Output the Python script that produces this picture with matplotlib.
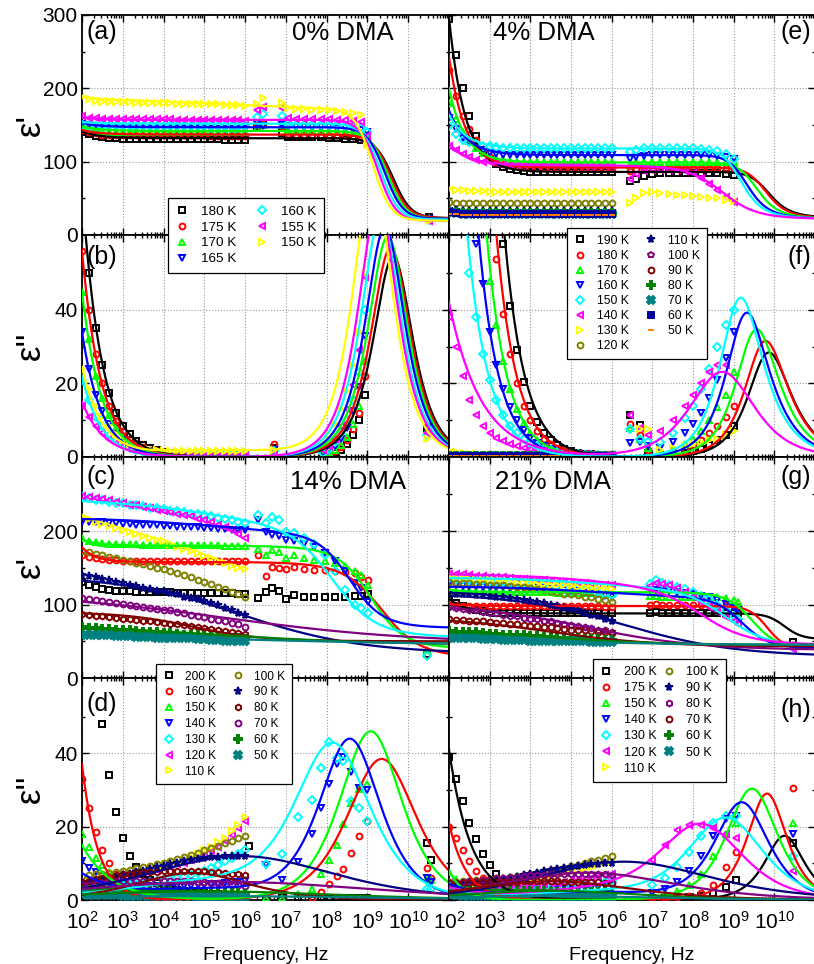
import numpy as np
import matplotlib
matplotlib.use("Agg")
import matplotlib.pyplot as plt
from matplotlib.lines import Line2D
from matplotlib.ticker import FixedLocator, FuncFormatter, NullFormatter

plt.rcParams['font.family'] = ['Liberation Sans', 'DejaVu Sans']
plt.rcParams['mathtext.fontset'] = 'custom'
plt.rcParams['mathtext.rm'] = 'Liberation Sans'
plt.rcParams['mathtext.it'] = 'Liberation Sans'

nan = float('nan')

# ---------------- data: log10 frequency of measured low-frequency points ----------------
LOGF_LOW = [2.0, 2.167, 2.333, 2.5, 2.667, 2.833, 3.0, 3.167, 3.333, 3.5, 3.667, 3.833, 4.0,
            4.167, 4.333, 4.5, 4.667, 4.833, 5.0, 5.167, 5.333, 5.5, 5.667, 5.833, 6.0]

# ===== 0% DMA : panels (a) eps', (b) eps'' =====
T_A = [180, 175, 170, 165, 160, 155, 150]
A_EP_LOW = [
    [141, 138, 135, 133, 132, 132, 131, 131, 131, 131, 131, 131, 131, 131, 131, 131, 131, 131, 131, 131, 131, 130, 130, 130, 130],
    [143, 141, 139, 137, 136, 136, 136, 136, 136, 136, 136, 136, 136, 136, 136, 136, 136, 136, 136, 135, 135, 135, 135, 135, 135],
    [148, 146, 144, 142, 141, 141, 141, 141, 141, 141, 141, 141, 141, 141, 141, 141, 141, 141, 141, 140, 140, 140, 140, 140, 140],
    [152, 150, 148, 147, 146, 146, 146, 146, 146, 146, 146, 146, 146, 146, 146, 146, 146, 146, 146, 145, 145, 145, 145, 145, 145],
    [150, 149, 149, 149, 149, 149, 149, 149, 149, 149, 149, 149, 149, 149, 149, 149, 149, 149, 149, 149, 149, 149, 149, 149, 149],
    [162, 160, 159, 158, 158, 158, 158, 158, 158, 158, 158, 158, 158, 158, 157, 157, 157, 157, 157, 157, 157, 157, 157, 157, 156],
    [188, 185, 183, 182, 181, 181, 181, 181, 180, 180, 180, 180, 180, 180, 179, 179, 179, 178, 178, 178, 178, 177, 177, 177, 176]]
A_LOGF_EP_HI = [6.3, 6.45, 6.9, 7.05, 7.25, 7.45, 7.65, 7.85, 8.05, 8.25, 8.45, 8.65, 8.85, 8.98, 10.5]
A_EP_HI = [
    [147, 150, 139, 134, 133, 133, 133, 133, 132, 132, 131, 131, 130, 127, 24],
    [150, 152, 148, 138, 137, 137, 137, 137, 137, 136, 136, 135, 134, 130, 23],
    [146, 150, 150, 143, 142, 142, 142, 142, 141, 141, 141, 140, 139, 136, 23],
    [152, 148, 150, 148, 147, 147, 147, 147, 147, 146, 146, 145, 143, 140, 22],
    [161, 165, 162, 151, 150, 150, 150, 150, 150, 150, 149, 148, 146, 140, 21],
    [170, 175, 173, 159, 158, 158, 158, 158, 158, 157, 157, 156, 154, 135, 19],
    [178, 187, 180, 173, 172, 172, 171, 171, 170, 169, 168, 166, 163, 123, 19]]
A_EPP_LOW = [
    [72, 50, 35, 25, 17.5, 12, 8.5, 6.2, 4.3, 3.2, 2.4, 1.8, 1.4, 1.1, 0.9, 0.8, 0.7, 0.6, 0.6, 0.5, 0.5, 0.5, 0.5, 0.5, 0.5],
    [56, 40, 28, 20, 14, 9.7, 7, 5, 3.6, 2.6, 2, 1.5, 1.2, 0.95, 0.8, 0.7, 0.6, 0.6, 0.5, 0.5, 0.5, 0.5, 0.5, 0.5, 0.5],
    [45, 32, 22, 16, 11.5, 8, 5.7, 4, 3, 2.2, 1.6, 1.3, 1.0, 0.8, 0.7, 0.6, 0.5, 0.5, 0.5, 0.5, 0.5, 0.5, 0.5, 0.5, 0.5],
    [34, 24, 17, 12.5, 9, 6.3, 4.5, 3.3, 2.4, 1.8, 1.4, 1.1, 0.9, 0.7, 0.6, 0.5, 0.5, 0.5, 0.5, 0.5, 0.5, 0.5, 0.5, 0.5, 0.5],
    [21, 15.5, 11, 8.3, 6, 4.3, 3.2, 2.4, 1.8, 1.4, 1.1, 0.9, 0.7, 0.6, 0.5, 0.5, 0.5, 0.5, 0.5, 0.5, 0.5, 0.5, 0.5, 0.5, 0.5],
    [14, 10.8, 8.3, 6.5, 5, 3.8, 2.9, 2.3, 1.8, 1.4, 1.1, 0.9, 0.7, 0.6, 0.5, 0.5, 0.4, 0.4, 0.4, 0.4, 0.4, 0.4, 0.4, 0.4, 0.4],
    [24, 18.5, 14, 11, 8.3, 6.2, 4.6, 3.6, 2.8, 2.3, 2.0, 1.8, 1.7, 1.6, 1.5, 1.5, 1.5, 1.5, 1.5, 1.5, 1.5, 1.5, 1.5, 1.5, 1.5]]
A_LOGF_EPP_HI = [6.7, 7.9, 8.05, 8.2, 8.35, 8.5, 8.65, 8.8, 8.95, 10.45]
A_EPP_HI = [
    [2.5, 0.4, 0.6, 1.0, 1.8, 3.5, 6, 10, 17, 8],
    [3.5, 0.5, 0.8, 1.5, 2.6, 4.5, 7.5, 12, 22, 8.5],
    [1.5, 0.6, 1.0, 2.0, 3.3, 5.5, 9, 14, 26, 7],
    [2.0, 0.8, 1.5, 3.0, 5, 8, 12.5, 19, 33, 7.5],
    [1.5, 1.2, 2.2, 4, 6.5, 10, 15.5, 23, 40, 6],
    [1.2, 1.8, 3, 5, 8.5, 13, 19.5, 29, 49, 6.5],
    [2, 3.5, 6, 9, 13, 18, 25, 34, 50, 5]]
# fit parameters per temperature:
# (eps_inf, d1, log f1, a1, b1, d2, log f2, a2, B, m, A, s)
A_FIT = [
    (23, 109, 9.63, 1, 1, 0, 5, 0.3, 9, 1.0, 73, 0.92),
    (23, 114, 9.57, 1, 1, 0, 5, 0.3, 6, 1.0, 56, 0.92),
    (22, 120, 9.50, 1, 1, 0, 5, 0.3, 6, 1.0, 45, 0.92),
    (22, 125, 9.43, 1, 1, 0, 5, 0.3, 6, 1.0, 34, 0.92),
    (21, 131, 9.33, 1, 1, 0, 5, 0.3, 2, 1.0, 22, 0.92),
    (19, 138, 9.26, 1, 1, 0, 5, 0.3, 4, 1.0, 15, 0.8),
    (19, 152, 9.13, 1, 1, 15, 5.5, 0.3, 4, 1.0, 24, 0.9)]

# ===== 4% DMA : panels (e) eps', (f) eps'' =====
T_E = [190, 180, 170, 160, 150, 140, 130, 120, 110, 100, 90, 80, 70, 60, 50]
E_EP_LOW = [
    [295, 245, 200, 162, 135, 116, 104, 97, 93, 90, 88, 87, 86, 86, 86, 86, 86, 86, 86, 86, 86, 86, 86, 86, 86],
    [225, 190, 162, 145, 130, 117, 106, 100, 97, 95, 94, 93, 92, 92, 92, 92, 92, 92, 92, 92, 92, 92, 92, 92, 92],
    [180, 158, 140, 128, 119, 112, 107, 104, 102, 101, 100, 100, 99, 99, 99, 99, 99, 99, 99, 99, 99, 99, 99, 99, 99],
    [160, 145, 132, 125, 120, 116, 112, 110, 109, 109, 109, 109, 109, 109, 109, 109, 109, 109, 109, 109, 109, 109, 109, 109, 109],
    [148, 138, 130, 127, 124, 122, 121, 120, 119, 119, 118, 118, 118, 118, 118, 118, 118, 118, 118, 118, 118, 118, 118, 118, 118],
    [122, 116, 110, 106, 102, 100, 99, 98, 97, 96, 96, 95, 95, 95, 95, 95, 95, 95, 95, 95, 94, 94, 94, 94, 94],
    [63, 62, 61, 60, 60, 60, 59, 59, 59, 59, 59, 59, 59, 59, 59, 59, 59, 59, 58, 58, 58, 58, 58, 58, 58],
    [45, 44, 44, 44, 43, 43, 43, 43, 43, 43, 43, 43, 43, 43, 43, 43, 43, 43, 43, 43, 43, 43, 43, 43, 43],
    [35, 34, 33, 33, 33, 33, 33, 33, 33, 33, 33, 33, 33, 33, 33, 33, 33, 33, 33, 33, 33, 33, 33, 33, 33],
    [34, 33, 32, 32, 32, 32, 32, 32, 32, 32, 32, 32, 32, 32, 32, 32, 32, 32, 32, 32, 32, 32, 32, 32, 32],
    [33, 32, 31, 31, 31, 31, 31, 31, 31, 31, 31, 31, 31, 31, 31, 31, 31, 31, 31, 31, 31, 31, 31, 31, 31],
    [32, 31, 30, 30, 30, 30, 30, 30, 30, 30, 30, 30, 30, 30, 30, 30, 30, 30, 30, 30, 30, 30, 30, 30, 30],
    [31, 30, 29, 29, 29, 29, 29, 29, 29, 29, 29, 29, 29, 29, 29, 29, 29, 29, 29, 29, 29, 29, 29, 29, 29],
    [31, 30, 29, 29, 29, 29, 29, 29, 29, 29, 29, 29, 29, 29, 29, 29, 29, 29, 29, 29, 29, 29, 29, 29, 29],
    [29, 28, 27, 27, 27, 27, 27, 27, 27, 27, 27, 27, 27, 27, 27, 27, 27, 27, 27, 27, 27, 27, 27, 27, 27]]
E_LOGF_EP_HI = [6.45, 6.6, 6.8, 7.0, 7.2, 7.4, 7.6, 7.8, 8.0, 8.2, 8.4, 8.6, 8.8, 9.0]
E_EP_HI = [
    [74, 77, 80, 83, 84, 84, 84, 84, 84, 84, 84, 84, 83, 82],
    [87, 90, 92, 92, 92, 92, 92, 92, 92, 92, 92, 92, 91, 90],
    [96, 99, 100, 100, 100, 100, 100, 100, 100, 100, 100, 100, 100, 99],
    [104, 107, 108, 109, 109, 109, 109, 109, 109, 109, 109, 108, 107, 104],
    [113, 116, 118, 118, 118, 118, 118, 118, 118, 117, 116, 114, 110, 104],
    [76, 83, 87, 88, 88, 88, 88, 87, 84, 78, 70, 62, 52, 45],
    [43, 50, 57, 58, 57, 56, 55, 54, 53, 52, 51, 50, 48, 46]]
E_EPP_LOW = [
    [nan, nan, nan, nan, nan, nan, nan, nan, 58, 41, 29, 20.5, 14, 9.5, 6.5, 4.5, 3.2, 2.3, 1.6, 1.2, 0.9, 0.7, 0.5, 0.4, 0.3],
    [nan, nan, nan, nan, nan, nan, nan, 54, 39, 28, 20, 14, 10, 7, 5, 3.5, 2.5, 1.8, 1.3, 0.9, 0.7, 0.5, 0.4, 0.35, 0.3],
    [nan, nan, nan, nan, nan, nan, 48, 36, 26, 18.5, 13, 9.3, 6.6, 4.7, 3.4, 2.4, 1.8, 1.3, 0.9, 0.7, 0.5, 0.4, 0.35, 0.3, 0.3],
    [nan, nan, nan, nan, 58, 47, 34, 25, 18.5, 13.5, 10, 7.3, 5.3, 3.9, 2.9, 2.1, 1.6, 1.2, 0.9, 0.7, 0.5, 0.4, 0.35, 0.3, 0.3],
    [nan, nan, nan, 50, 38, 28, 21, 15.5, 11.5, 8.5, 6.5, 5, 3.8, 2.9, 2.3, 1.8, 1.4, 1.1, 0.9, 0.75, 0.6, 0.5, 0.45, 0.4, 0.4],
    [38, 30, 22, 15.5, 11.5, 8.5, 6.5, 5.3, 4.4, 3.6, 3.0, 2.5, 2.1, 1.8, 1.5, 1.3, 1.1, 1.0, 0.9, 0.8, 0.7, 0.65, 0.6, 0.55, 0.5],
    [1.5, 1.3, 1.1, 0.9, 0.7, 0.5, 0.4, 0.3, 0.3, 0.3, 0.3, 0.3, 0.3, 0.3, 0.3, 0.3, 0.3, 0.3, 0.3, 0.3, 0.3, 0.3, 0.3, 0.3, 0.3],
    [0.4, 0.3, 0.3, 0.3, 0.3, 0.3, 0.3, 0.3, 0.3, 0.3, 0.3, 0.3, 0.3, 0.3, 0.3, 0.3, 0.3, 0.3, 0.3, 0.3, 0.3, 0.3, 0.3, 0.3, 0.3],
    [0.3, 0.3, 0.3, 0.3, 0.3, 0.3, 0.3, 0.3, 0.3, 0.3, 0.3, 0.3, 0.3, 0.3, 0.3, 0.3, 0.3, 0.3, 0.3, 0.3, 0.3, 0.3, 0.3, 0.3, 0.3],
    [0.3, 0.3, 0.3, 0.3, 0.3, 0.3, 0.3, 0.3, 0.3, 0.3, 0.3, 0.3, 0.3, 0.3, 0.3, 0.3, 0.3, 0.3, 0.3, 0.3, 0.3, 0.3, 0.3, 0.3, 0.3],
    [0.3, 0.3, 0.3, 0.3, 0.3, 0.3, 0.3, 0.3, 0.3, 0.3, 0.3, 0.3, 0.3, 0.3, 0.3, 0.3, 0.3, 0.3, 0.3, 0.3, 0.3, 0.3, 0.3, 0.3, 0.3],
    [0.2, 0.2, 0.2, 0.2, 0.2, 0.2, 0.2, 0.2, 0.2, 0.2, 0.2, 0.2, 0.2, 0.2, 0.2, 0.2, 0.2, 0.2, 0.2, 0.2, 0.2, 0.2, 0.2, 0.2, 0.2],
    [0.2, 0.2, 0.2, 0.2, 0.2, 0.2, 0.2, 0.2, 0.2, 0.2, 0.2, 0.2, 0.2, 0.2, 0.2, 0.2, 0.2, 0.2, 0.2, 0.2, 0.2, 0.2, 0.2, 0.2, 0.2],
    [0.2, 0.2, 0.2, 0.2, 0.2, 0.2, 0.2, 0.2, 0.2, 0.2, 0.2, 0.2, 0.2, 0.2, 0.2, 0.2, 0.2, 0.2, 0.2, 0.2, 0.2, 0.2, 0.2, 0.2, 0.2],
    [0.2, 0.2, 0.2, 0.2, 0.2, 0.2, 0.2, 0.2, 0.2, 0.2, 0.2, 0.2, 0.2, 0.2, 0.2, 0.2, 0.2, 0.2, 0.2, 0.2, 0.2, 0.2, 0.2, 0.2, 0.2]]
E_LOGF_EPP_HI = [6.45, 6.7, 6.9, 7.2, 7.5, 7.8, 8.0, 8.2, 8.4, 8.6, 8.8, 9.0]
E_EPP_HI = [
    [11.5, 8.7, 1, 0.5, 0.8, 1.2, 1.6, 2.2, 3.2, 4.5, 6, 8.5],
    [9, 6, 2, 1, 1.5, 2.3, 3.2, 4.5, 6.5, 8.5, 11, 14],
    [8, 5, 2.5, 1.5, 2.2, 3.5, 5, 7, 10, 13.5, 17, 23],
    [3.7, 4, 3, 2.5, 4, 6.5, 9, 12, 16, 21, 27, 34],
    [7.6, 5, 4, 4, 6.5, 10.5, 14, 18.5, 24, 30, 36, 40],
    [11.5, 8, 6, 7, 10, 14, 17, 20, 23, 25, 25, nan],
    [nan, 7.5, 7.5, 2, 2.5, 3, 3.5, 4, 4.5, 5, 6, 7]]
E_FIT = [
    (23, 63, 9.79, 1, 0.8, 0, 5, 0.3, 210, 1.1, 961, 0.88),
    (22, 70, 9.71, 1, 0.8, 0, 5, 0.3, 151, 1.1, 642, 0.88),
    (22, 77, 9.49, 1, 0.8, 0, 5, 0.3, 101, 1.1, 395, 0.88),
    (22, 87, 9.25, 1, 0.8, 0, 5, 0.3, 61, 1.0, 263, 0.88),
    (22, 96, 9.10, 1, 0.8, 0, 5, 0.3, 46, 1.0, 143, 0.83),
    (22, 73, 8.72, 0.72, 1, 0, 5, 0.3, 30, 0.9, 42, 0.55),
    None, None, None, None, None, None, None, None, None]

# ===== 14% DMA : panels (c) eps', (d) eps'' =====
T_C = [200, 160, 150, 140, 130, 120, 110, 100, 90, 80, 70, 60, 50]
C_EP_LOW = [
    [131, 127, 124, 121, 120, 119, 118, 118, 117, 117, 117, 117, 117, 117, 116, 116, 116, 116, 116, 116, 116, 116, 116, 115, 115],
    [167, 165, 164, 162, 161, 161, 160, 160, 160, 160, 160, 160, 160, 160, 160, 160, 160, 160, 160, 160, 160, 160, 160, 160, 160],
    [190, 187, 185, 184, 183, 183, 182, 182, 182, 181, 181, 181, 181, 181, 181, 181, 181, 181, 181, 181, 181, 180, 180, 180, 180],
    [213, 213, 212, 212, 211, 211, 210, 210, 209, 209, 208, 208, 207, 207, 206, 206, 205, 205, 204, 204, 203, 203, 202, 202, 201],
    [246, 245, 243, 242, 240, 239, 238, 236, 235, 234, 232, 231, 230, 228, 227, 226, 224, 223, 222, 220, 218, 216, 215, 213, 211],
    [248, 247, 245, 244, 242, 240, 238, 236, 235, 233, 231, 229, 228, 226, 224, 222, 220, 217, 215, 212, 209, 206, 201, 196, 190],
    [220, 217, 213, 210, 207, 204, 202, 199, 196, 194, 191, 188, 186, 183, 179, 176, 173, 170, 166, 163, 159, 156, 153, 150, 148],
    [173, 171, 169, 167, 165, 163, 161, 159, 157, 155, 153, 150, 148, 146, 143, 140, 137, 134, 131, 128, 124, 121, 117, 114, 111],
    [140, 139, 137, 135, 133, 131, 129, 127, 125, 123, 121, 119, 118, 116, 114, 111, 109, 107, 105, 102, 99, 96, 92, 89, 86],
    [87, 86, 85, 84, 83, 82, 81, 80, 79, 78, 77, 76, 75, 74, 73, 72, 71, 70, 68, 67, 66, 64, 63, 61, 60],
    [109, 108, 106, 105, 104, 102, 101, 100, 98, 97, 96, 94, 93, 92, 90, 88, 86, 84, 83, 81, 79, 77, 75, 73, 70],
    [69, 68, 68, 67, 67, 66, 65, 65, 64, 63, 63, 62, 61, 61, 60, 59, 59, 58, 57, 56, 56, 55, 54, 54, 53],
    [59, 59, 58, 58, 58, 57, 57, 57, 56, 56, 56, 55, 55, 55, 54, 54, 54, 53, 53, 52, 52, 51, 51, 51, 50]]
C_LOGF_EP_HI = [6.32, 6.5, 6.65, 6.83, 7.0, 7.2, 7.45, 7.7, 7.95, 8.2, 8.45, 8.7, 8.85, 9.02, 10.45]
C_EP_HI = [
    [109, 117, 123, 119, 108, 113, 111, 111, 111, 111, 111, 112, 112, 114, 33],
    [167, 139, 151, 150, 149, 151, 148, 147, 147, 146, 145, 143, 137, 133, 31],
    [176, 168, 174, 172, 163, 168, 163, 161, 160, 156, 152, 146, 140, 127, 38],
    [215, 199, 195, 194, 188, 186, 183, 179, 170, 160, 146, 130, 122, 104, nan],
    [222, 211, 219, 215, 199, 198, 190, 182, 168, 146, 120, 100, 95, 88, 30]]
C_EPP_LOW = [
    [nan, nan, nan, 48, 34, 24, 17, 12, 9, 7, 5.5, 4.5, 3.8, 3.2, 2.8, 2.5, 2.2, 2.0, 1.8, 1.6, 1.5, 1.3, 1.2, 1.1, 1.0],
    [33, 25, 18.5, 13.5, 10, 7, 5, 3.5, 2.4, 1.7, 1.2, 0.9, 0.7, 0.5, 0.4, 0.4, 0.3, 0.3, 0.3, 0.3, 0.3, 0.3, 0.3, 0.3, 0.3],
    [18, 14.5, 11.5, 9.5, 7.7, 6.3, 5.2, 4.4, 3.8, 3.4, 3.1, 2.9, 2.7, 2.6, 2.5, 2.4, 2.4, 2.3, 2.3, 2.2, 2.2, 2.1, 2.1, 2.0, 2.0],
    [10.5, 8.8, 7.5, 6.5, 5.8, 5.2, 4.8, 4.4, 4.1, 3.9, 3.8, 3.7, 3.7, 3.7, 3.8, 3.8, 3.9, 4.0, 4.1, 4.3, 4.4, 4.6, 4.8, 5.0, 5.2],
    [3, 3.1, 3.3, 3.5, 3.7, 3.9, 4.0, 4.2, 4.4, 4.6, 4.9, 5.1, 5.4, 5.7, 6.0, 6.3, 6.8, 7.4, 8.0, 8.8, 9.6, 10.5, 11.5, 12.5, 13.6],
    [4.5, 4.8, 5.2, 5.5, 5.8, 6.2, 6.5, 6.8, 7.2, 7.5, 7.8, 8.2, 8.7, 9.2, 9.7, 10.2, 10.9, 11.6, 12.3, 13.3, 14.5, 16, 17.7, 19.5, 21.5],
    [5, 5.3, 5.7, 6, 6.3, 6.7, 7, 7.3, 7.7, 8, 8.4, 8.8, 9.3, 9.8, 10.3, 11, 11.7, 12.5, 13.5, 14.5, 15.7, 17, 18.7, 20.5, 22.5],
    [6.5, 6.7, 7, 7.2, 7.4, 7.7, 8, 8.3, 8.7, 9, 9.3, 9.7, 10.2, 10.7, 11.2, 11.8, 12.3, 12.9, 13.5, 14.2, 14.8, 15.5, 16.2, 16.9, 17.5],
    [4.5, 4.8, 5.2, 5.5, 5.8, 6.3, 6.7, 7.1, 7.6, 8, 8.5, 9, 9.3, 9.8, 10.2, 10.5, 10.9, 11.2, 11.4, 11.6, 11.8, 11.9, 12, 12, 12],
    [5, 5.3, 5.7, 6, 6.3, 6.7, 7, 7.2, 7.3, 7.5, 7.6, 7.7, 7.8, 7.9, 7.9, 7.9, 7.9, 7.9, 7.8, 7.7, 7.5, 7.4, 7.2, 7.0, 6.7],
    [4, 4.2, 4.4, 4.6, 4.8, 5.0, 5.1, 5.2, 5.2, 5.3, 5.3, 5.3, 5.3, 5.3, 5.2, 5.1, 5.1, 5.0, 4.8, 4.7, 4.5, 4.4, 4.2, 4.0, 3.8],
    [2.5, 2.6, 2.6, 2.6, 2.6, 2.6, 2.6, 2.6, 2.5, 2.5, 2.5, 2.4, 2.4, 2.4, 2.3, 2.3, 2.2, 2.2, 2.1, 2.0, 2.0, 1.9, 1.8, 1.8, 1.7],
    [1.5, 1.4, 1.4, 1.3, 1.3, 1.3, 1.2, 1.2, 1.2, 1.1, 1.1, 1.1, 1.0, 1.0, 1.0, 1.0, 1.0, 0.9, 0.9, 0.9, 0.9, 0.8, 0.8, 0.8, 0.8]]
C_LOGF_EPP_HI = [6.1, 6.5, 6.9, 7.3, 7.65, 7.85, 8.05, 8.25, 8.4, 8.6, 8.8, 9.0, 10.45, 10.55]
C_EPP_HI = [
    [14.6, 0.5, 0.5, 0.5, 0.5, 0.5, 0.5, 0.5, 0.5, 0.5, 0.5, 0.5, 15.4, 11],
    [nan, nan, nan, nan, 0.6, 2.3, 4.3, 6.6, 8.4, 12.9, 17.5, 21.6, 8.6, 5.9],
    [nan, 0.5, 0.5, 1.5, 3, 7, 10.9, 15, 20.6, 26.5, 30.2, 31.5, 6, 5.5],
    [nan, 9.5, 5.5, 10.4, 18, 25, 31.5, 37, 39, 35, 30.5, 30, 6, 5],
    [nan, 9.8, 12.6, 22.7, 27.2, 36, 43, 38.7, 38, 27, 25, 21.6, 3, 3]]
C_FIT = [
    None,
    (28, 130, 9.35, 0.68, 1, 0, 5, 0.3, 20, 1.3, 37, 1.1),
    (40, 140, 9.08, 0.74, 1, 0, 5, 0.3, 8, 1.0, 15, 0.6),
    (68, 130, 8.57, 0.75, 1, 20, 5, 0.35, 0, 1, 6.5, 0.5),
    (55, 150, 8.15, 0.64, 1, 40, 5, 0.3, 0, 1, 0, 1),
    None, None, None,
    (33, 107, 5.9, 0.28, 1, 0, 5, 0.3, 0, 1, 0, 1),
    (50, 40, 4.7, 0.45, 1, 0, 5, 0.3, 0, 1, 0, 1),
    (47, 70, 5.5, 0.18, 1, 0, 5, 0.3, 0, 1, 0, 1),
    (45, 30, 5.0, 0.20, 1, 0, 5, 0.3, 0, 1, 0, 1),
    (45, 18, 5.0, 0.15, 1, 0, 5, 0.3, 0, 1, 0, 1)]

# ===== 21% DMA : panels (g) eps', (h) eps'' =====
T_G = [200, 175, 150, 140, 130, 120, 110, 100, 90, 80, 70, 60, 50]
G_EP_LOW = [
    [106, 102, 98, 95, 93, 91, 90, 89, 89, 88, 88, 88, 88, 88, 88, 88, 88, 88, 88, 88, 88, 88, 88, 88, 88],
    [99, 99, 98, 98, 98, 98, 98, 98, 98, 98, 98, 98, 98, 98, 98, 98, 98, 98, 98, 98, 98, 98, 98, 97, 97],
    [120, 119, 119, 118, 118, 118, 118, 118, 117, 117, 117, 117, 117, 117, 117, 117, 116, 116, 116, 116, 116, 116, 116, 115, 115],
    [126, 126, 125, 125, 125, 124, 124, 124, 124, 123, 123, 123, 122, 122, 122, 121, 121, 120, 119, 118, 117, 116, 114, 112, 110],
    [136, 135, 135, 134, 133, 133, 132, 131, 131, 130, 129, 129, 128, 127, 127, 126, 125, 124, 123, 122, 120, 118, 117, 115, 113],
    [142, 141, 141, 140, 139, 139, 138, 137, 137, 136, 135, 135, 134, 133, 133, 132, 131, 131, 130, 129, 129, 128, 127, 127, 126],
    [137, 136, 136, 135, 134, 134, 133, 132, 132, 131, 130, 130, 129, 128, 128, 127, 126, 126, 125, 124, 124, 123, 122, 122, 121],
    [131, 130, 130, 129, 128, 128, 127, 126, 126, 125, 124, 124, 122, 121, 120, 118, 117, 115, 114, 113, 111, 110, 108, 106, 104],
    [116, 115, 115, 114, 113, 113, 112, 111, 110, 109, 108, 106, 105, 104, 102, 100, 98, 96, 94, 92, 89, 86, 84, 81, 78],
    [97, 96, 94, 93, 92, 90, 89, 88, 86, 85, 84, 82, 81, 80, 78, 77, 75, 74, 72, 71, 69, 68, 66, 65, 63],
    [80, 79, 79, 78, 77, 77, 76, 75, 75, 74, 73, 72, 71, 71, 70, 69, 68, 67, 66, 66, 65, 64, 63, 62, 61],
    [64, 63, 63, 62, 62, 61, 60, 60, 59, 59, 58, 58, 57, 57, 56, 56, 55, 55, 54, 54, 53, 53, 53, 52, 52],
    [55, 55, 54, 54, 54, 53, 53, 53, 52, 52, 52, 52, 51, 51, 51, 51, 50, 50, 50, 50, 50, 49, 49, 49, 49]]
G_LOGF_EP_HI = [6.95, 7.1, 7.25, 7.4, 7.6, 7.8, 8.0, 8.2, 8.4, 8.6, 8.8, 9.0, 9.1, 10.45]
G_EP_HI = [
    [89, 90, 89, 88, 88, 88, 88, 88, 88, 88, 88, 88, 88, 49],
    [99, 101, 100, 99, 99, 99, 99, 99, 99, 99, 99, 98, 97, 45],
    [112, 112, 111, 111, 111, 111, 111, 110, 110, 110, 109, 106, 104, 45],
    [120, 120, 119, 118, 117, 116, 114, 112, 110, 106, 101, 95, 92, 44],
    [128, 133, 130, 127, 124, 121, 117, 112, 107, 100, 92, 84, 80, 42],
    [125, 130, 128, 126, 122, 117, 111, 104, 97, 90, 83, 77, 74, 40]]
G_EPP_LOW = [
    [39, 33, 27, 21, 16.5, 12.5, 9.5, 7, 5.2, 3.9, 2.9, 2.2, 1.7, 1.4, 1.1, 0.9, 0.8, 0.7, 0.6, 0.6, 0.5, 0.5, 0.5, 0.5, 0.5],
    [20, 17, 13.6, 10.5, 8, 6, 4.5, 3.4, 2.6, 2, 1.5, 1.2, 0.9, 0.7, 0.6, 0.5, 0.5, 0.4, 0.4, 0.4, 0.4, 0.4, 0.4, 0.4, 0.4],
    [7.5, 5.8, 4.6, 3.7, 3.1, 2.7, 2.4, 2.1, 1.9, 1.8, 1.6, 1.5, 1.5, 1.4, 1.4, 1.3, 1.3, 1.3, 1.2, 1.2, 1.2, 1.2, 1.2, 1.2, 1.2],
    [4.5, 4.0, 3.6, 3.3, 3.1, 2.9, 2.8, 2.7, 2.7, 2.6, 2.6, 2.6, 2.6, 2.7, 2.7, 2.8, 2.9, 3.0, 3.0, 3.1, 3.3, 3.4, 3.5, 3.7, 3.8],
    [4, 3.7, 3.4, 3.2, 3.1, 3.0, 2.9, 2.9, 2.9, 2.9, 3.0, 3.0, 3.1, 3.2, 3.3, 3.4, 3.5, 3.7, 3.9, 4.1, 4.3, 4.5, 4.8, 5.0, 5.3],
    [4.5, 4.2, 4.0, 3.8, 3.7, 3.6, 3.6, 3.6, 3.6, 3.7, 3.7, 3.8, 4.0, 4.1, 4.3, 4.5, 4.7, 5.0, 5.2, 5.5, 5.8, 6.0, 6.3, 6.7, 7.0],
    [4, 4, 4, 4.1, 4.2, 4.3, 4.5, 4.7, 4.9, 5.1, 5.3, 5.5, 5.8, 6.1, 6.4, 6.7, 7.0, 7.4, 7.8, 8.2, 8.6, 9.0, 9.5, 10, 10.5],
    [5, 5, 5.1, 5.2, 5.4, 5.5, 5.7, 5.9, 6.1, 6.3, 6.6, 6.9, 7.1, 7.4, 7.8, 8.1, 8.4, 8.8, 9.2, 9.6, 10, 10.5, 11, 11.5, 12],
    [3.5, 3.8, 4.0, 4.3, 4.6, 4.9, 5.1, 5.4, 5.8, 6.1, 6.4, 6.8, 7.1, 7.4, 7.8, 8.1, 8.4, 8.8, 9.0, 9.3, 9.5, 9.7, 9.9, 10.0, 10.2],
    [4.5, 4.7, 4.9, 5.1, 5.3, 5.5, 5.7, 5.9, 6.1, 6.3, 6.4, 6.6, 6.7, 6.8, 6.9, 7.0, 7.0, 7.1, 7.1, 7.1, 7.1, 7.1, 7.0, 7.0, 6.9],
    [4.5, 4.6, 4.6, 4.7, 4.8, 4.8, 4.9, 5.0, 5.0, 5.0, 5.0, 5.1, 5.1, 5.1, 5.1, 5.1, 5.1, 5.0, 5.0, 4.9, 4.9, 4.8, 4.8, 4.7, 4.6],
    [2.5, 2.5, 2.5, 2.5, 2.5, 2.5, 2.5, 2.5, 2.5, 2.5, 2.4, 2.4, 2.4, 2.4, 2.4, 2.3, 2.3, 2.3, 2.2, 2.2, 2.2, 2.1, 2.1, 2.1, 2.0],
    [1.5, 1.3, 1.2, 1.1, 1.0, 1.0, 1.0, 1.0, 1.0, 1.0, 0.9, 0.9, 0.9, 0.9, 0.9, 0.9, 0.9, 0.9, 0.8, 0.8, 0.8, 0.8, 0.8, 0.8, 0.8]]
G_LOGF_EPP_HI = [7.0, 7.3, 7.6, 7.9, 8.2, 8.5, 8.8, 9.05, 10.45]
G_EPP_HI = [
    [0.5, 0.5, 0.6, 0.8, 1.2, 2.0, 3.5, 5.5, 15.5],
    [0.5, 0.6, 0.8, 1.2, 2.0, 4.0, 9.0, 13, 30.5],
    [1, 1.5, 2.5, 4, 7, 12, 18, 21, 21],
    [2, 3, 5, 8, 12, 17.5, 22, 23, 18],
    [4, 6, 9, 13, 17.5, 21, 23, 23, 12],
    [11, 15, 19, 20.5, 20.5, 19.5, 18, 17, 8]]
G_FIT = [
    (53, 35, 10.25, 1, 1, 0, 5, 0.3, 20, 1.0, 41, 0.8),
    (40, 58, 9.82, 1, 1, 0, 5, 0.3, 3, 1.0, 21, 1.0),
    (40, 77, 9.45, 0.85, 1, 0, 5, 0.3, 3, 1.0, 8, 1.2),
    (40, 70, 9.2, 0.82, 1, 15, 5.5, 0.35, 0, 1, 4, 0.5),
    (42, 80, 8.81, 0.64, 1, 15, 5.5, 0.35, 0, 1, 3, 0.5),
    (45, 80, 8.2, 0.59, 1, 17, 5.5, 0.35, 0, 1, 3, 0.5),
    None, None,
    (29, 87, 6.3, 0.30, 1, 0, 5, 0.3, 0, 1, 0, 1),
    (38, 62, 5.4, 0.30, 1, 0, 5, 0.3, 0, 1, 0, 1),
    (43, 40, 4.5, 0.32, 1, 0, 5, 0.3, 0, 1, 0, 1),
    (45, 21, 4.5, 0.30, 1, 0, 5, 0.3, 0, 1, 0, 1),
    (45, 11, 4.5, 0.25, 1, 0, 5, 0.3, 0, 1, 0, 1)]

# ---------------- styles ----------------
K, R, G, B_, C, M, Y = 'black', '#FF0000', '#00FF00', '#0000FF', '#00FFFF', '#FF00FF', '#FFFF00'
OL, NV, PU, MR, DG, TL, NV2, OR = '#808000', '#000080', '#800080', '#800000', '#008000', '#008080', '#0000A0', '#FF8000'
STY_A = [(K, 's', 0), (R, 'o', 0), (G, '^', 0), (B_, 'v', 0), (C, 'D', 0), (M, '<', 0), (Y, '>', 0)]
STY_E = STY_A + [(OL, 'o', 0), (NV, '*', 1), (PU, 'p', 0), (MR, 'o', 0), (DG, 'P', 1), (TL, 'X', 1),
                 (NV2, 's', 1), (OR, '_', 1)]
STY_C = STY_A + [(OL, 'o', 0), (NV, '*', 1), (MR, 'h', 0), (PU, 'o', 0), (DG, 'P', 1), (TL, 'X', 1)]
STY_G = STY_A + [(OL, 'o', 0), (NV, '*', 1), (PU, 'h', 0), (MR, 'o', 0), (DG, 'P', 1), (TL, 'X', 1)]


def model(f, p):
    einf, d1, lf1, a1, b1, d2, lf2, a2, Bc, m, Ac, s = p
    e = einf + d1 / (1 + (1j * f / 10 ** lf1) ** a1) ** b1
    e = e + d2 / (1 + (1j * f / 10 ** lf2) ** a2)
    ep = e.real + Bc * (f / 1e2) ** (-m)
    epp = -e.imag + Ac * (f / 1e2) ** (-s)
    return ep, epp


def msize(mkr):
    if mkr in ('*', 'P', 'X'):
        return 5.8
    if mkr == 'D':
        return 3.7
    return 4.2


def mk(ax, lf, vals, sty):
    col, mkr, filled = sty
    n = min(len(lf), len(vals))
    fc = col if filled else 'none'
    ax.plot(10 ** np.array(lf[:n]), np.array(vals[:n], float), linestyle='none', marker=mkr,
            ms=msize(mkr), mfc=fc, mec=col, mew=1.4, zorder=3, clip_on=True)


W, H = 814, 964
fig = plt.figure(figsize=(W / 100, H / 100), dpi=100)


def rect(x0, x1, y0, y1):
    return [x0 / W, 1 - y1 / H, (x1 - x0) / W, (y1 - y0) / H]


COLS = [(82, 449), (449, 815)]
ROWS = [(15, 235), (235, 457), (457, 678), (678, 900)]
YLIM = [(0, 300), (0, 60.4), (0, 301), (0, 60.5)]
YT = [[0, 100, 200, 300], [0, 20, 40], [0, 100, 200], [0, 20, 40]]
YM = [[50, 150, 250], [10, 30, 50], [50, 150, 250], [10, 30, 50]]

axes = {}
for ci, (x0, x1) in enumerate(COLS):
    for ri, (y0, y1) in enumerate(ROWS):
        ax = fig.add_axes(rect(x0, x1, y0, y1))
        ax.set_xscale('log')
        ax.set_xlim(1e2, 1e11)
        ax.set_ylim(*YLIM[ri])
        ax.xaxis.set_major_locator(FixedLocator([10.0 ** k for k in range(2, 12)]))
        ax.xaxis.set_minor_locator(FixedLocator([j * 10.0 ** k for k in range(2, 11) for j in range(2, 10)]))
        ax.yaxis.set_major_locator(FixedLocator(YT[ri]))
        ax.yaxis.set_minor_locator(FixedLocator(YM[ri]))
        ax.tick_params(which='both', direction='in', top=True, right=True, labelsize=15, width=1)
        ax.tick_params(which='major', length=5)
        ax.tick_params(which='minor', length=2.5)
        ax.tick_params(axis='y', pad=3)
        ax.grid(True, which='major', ls=':', color='#9a9a9a', lw=0.8)
        ax.set_axisbelow(True)
        for sp in ax.spines.values():
            sp.set_linewidth(1.3)
        if ri == 3:
            ax.xaxis.set_major_formatter(FuncFormatter(
                lambda v, p: '' if v > 2e10 else r'$10^{%d}$' % round(np.log10(v))))
            ax.xaxis.set_minor_formatter(NullFormatter())
            ax.tick_params(axis='x', pad=8)
            ax.set_xlabel('Frequency, Hz', fontsize=14, labelpad=10)
        else:
            ax.tick_params(labelbottom=False)
        if ci == 1:
            ax.tick_params(labelleft=False)
        axes[(ci, ri)] = ax

fgrid = np.logspace(2, 11, 600)


def draw_group(ax1, ax2, temps, sty, ep_low, lf_ep_hi, ep_hi, epp_low, lf_epp_hi, epp_hi, fits):
    for i in range(len(temps)):
        mk(ax1, LOGF_LOW, ep_low[i], sty[i])
        mk(ax2, LOGF_LOW, epp_low[i], sty[i])
        if i < len(ep_hi):
            mk(ax1, lf_ep_hi, ep_hi[i], sty[i])
        if i < len(epp_hi):
            mk(ax2, lf_epp_hi, epp_hi[i], sty[i])
    for i in range(len(temps)):
        if fits[i] is None:
            continue
        ep, epp = model(fgrid, fits[i])
        ax1.plot(fgrid, ep, color=sty[i][0], lw=1.6, zorder=4)
        ax2.plot(fgrid, epp, color=sty[i][0], lw=1.6, zorder=4)


draw_group(axes[(0, 0)], axes[(0, 1)], T_A, STY_A, A_EP_LOW, A_LOGF_EP_HI, A_EP_HI,
           A_EPP_LOW, A_LOGF_EPP_HI, A_EPP_HI, A_FIT)
draw_group(axes[(1, 0)], axes[(1, 1)], T_E, STY_E, E_EP_LOW, E_LOGF_EP_HI, E_EP_HI,
           E_EPP_LOW, E_LOGF_EPP_HI, E_EPP_HI, E_FIT)
draw_group(axes[(0, 2)], axes[(0, 3)], T_C, STY_C, C_EP_LOW, C_LOGF_EP_HI, C_EP_HI,
           C_EPP_LOW, C_LOGF_EPP_HI, C_EPP_HI, C_FIT)
draw_group(axes[(1, 2)], axes[(1, 3)], T_G, STY_G, G_EP_LOW, G_LOGF_EP_HI, G_EP_HI,
           G_EPP_LOW, G_LOGF_EPP_HI, G_EPP_HI, G_FIT)


def lab(ax, x, y, s, ha='left', fs=18):
    ax.text(x, y, s, transform=ax.transAxes, ha=ha, va='top', fontsize=fs, zorder=6)


lab(axes[(0, 0)], 0.012, 0.975, '(a)')
lab(axes[(0, 0)], 0.71, 0.975, '0% DMA', ha='center', fs=18.5)
lab(axes[(1, 0)], 0.99, 0.975, '(e)', ha='right')
lab(axes[(1, 0)], 0.26, 0.975, '4% DMA', ha='center', fs=18.5)
lab(axes[(0, 1)], 0.012, 0.955, '(b)')
lab(axes[(1, 1)], 0.99, 0.955, '(f)', ha='right')
lab(axes[(0, 2)], 0.012, 0.965, '(c)')
lab(axes[(0, 2)], 0.725, 0.94, '14% DMA', ha='center', fs=18.5)
lab(axes[(1, 2)], 0.99, 0.965, '(g)', ha='right')
lab(axes[(1, 2)], 0.283, 0.94, '21% DMA', ha='center', fs=18.5)
lab(axes[(0, 3)], 0.012, 0.935, '(d)')
lab(axes[(1, 3)], 0.99, 0.91, '(h)', ha='right')

for ri, txt in enumerate(["ε'", "ε''", "ε'", "ε''"]):
    y0, y1 = ROWS[ri]
    fig.text(30 / W, 1 - (y0 + y1) / 2 / H, txt, rotation=90, ha='center', va='center', fontsize=25)


def legend(temps, sty, x, y, fs, lsp, csp):
    hs = []
    for t, (col, mkr, filled) in zip(temps, sty):
        hs.append(Line2D([], [], ls='none', marker=mkr, color=col, mec=col,
                         mfc=col if filled else 'none', ms=msize(mkr), mew=1.4, label='%d K' % t))
    lg = fig.legend(handles=hs, ncol=2, loc='upper left', bbox_to_anchor=(x / W, 1 - y / H),
                    fontsize=fs, frameon=True, fancybox=False, framealpha=1, edgecolor='black',
                    handlelength=1.0, handletextpad=0.9, columnspacing=csp, labelspacing=lsp,
                    borderpad=0.55, borderaxespad=0)
    lg.get_frame().set_linewidth(0.9)
    lg.set_zorder(10)


legend(T_A, STY_A, 168, 198, 9.7, 0.25, 1.4)
legend(T_E, STY_E, 567, 228, 8.8, 0.25, 1.3)
legend(T_C, STY_C, 156, 664, 8.6, 0.32, 1.3)
legend(T_G, STY_G, 593, 659, 9, 0.33, 0.5)

fig.savefig('out.png', dpi=100)
